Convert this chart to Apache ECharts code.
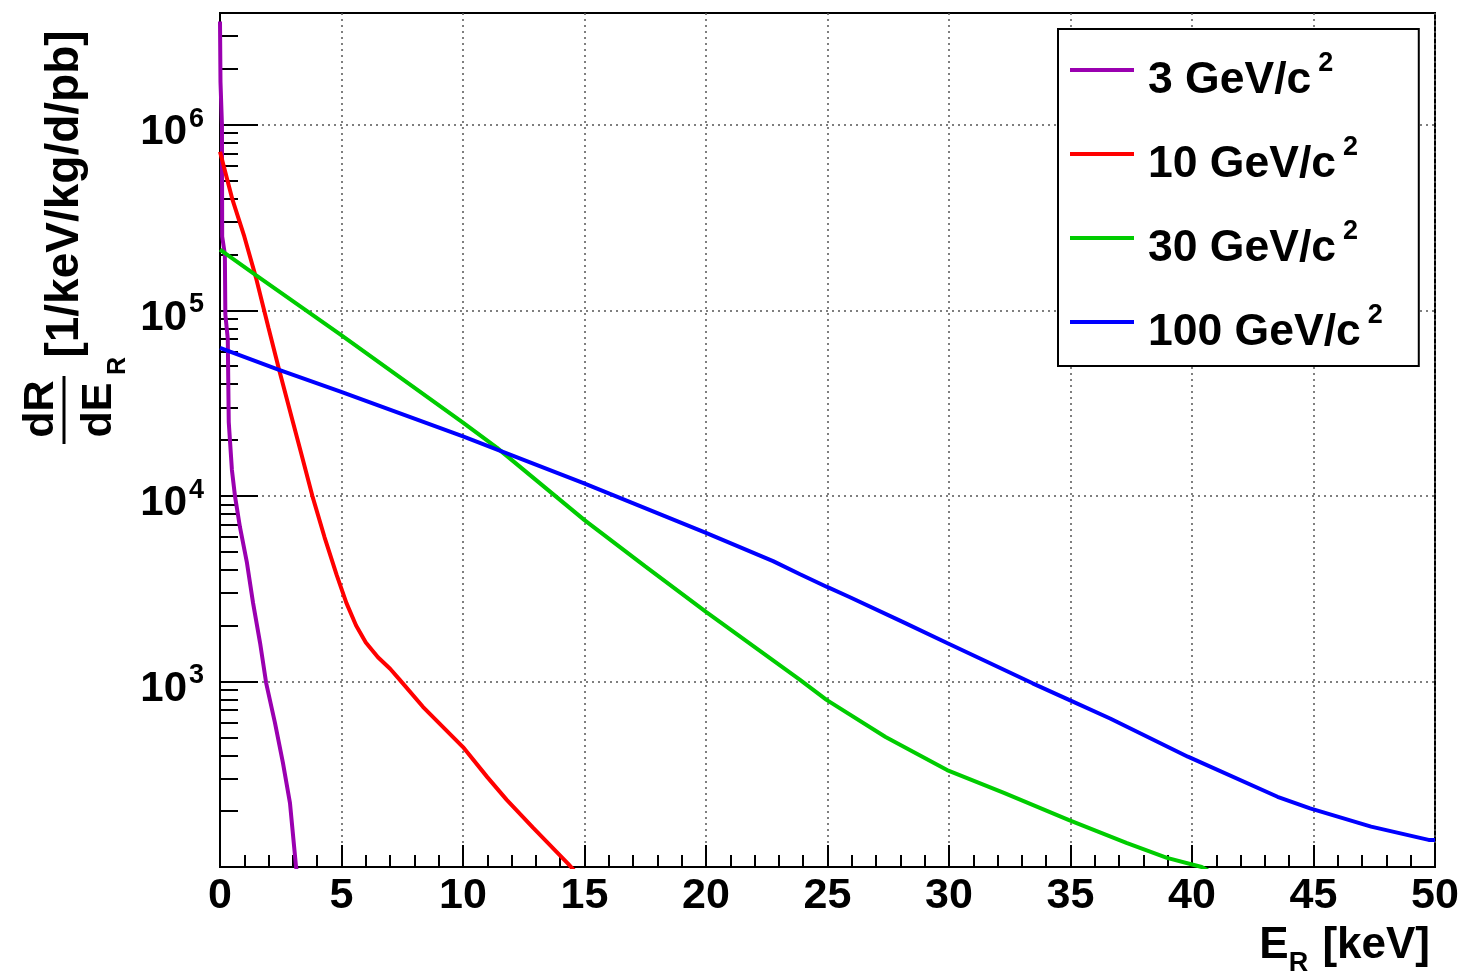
<!DOCTYPE html>
<html><head><meta charset="utf-8">
<script src="https://cdn.jsdelivr.net/npm/echarts@6/dist/echarts.min.js"></script>
<style>html,body{margin:0;padding:0;background:#fff}#c{width:1462px;height:976px}</style>
</head><body><div id="c"></div>
<script>
// ---- data ----
const seriesNames = ['3 GeV/c', '10 GeV/c', '30 GeV/c', '100 GeV/c'];
const seriesColors = ['#9a00b0', '#ff0000', '#00cc00', '#0000ff'];

const energy3 = [0, 0.02, 0.08, 0.09, 0.2, 0.22, 0.32, 0.36, 0.42, 0.49, 0.62, 0.82, 1.11, 1.36, 1.65, 1.9, 2.26, 2.59, 2.88, 3.13, 3.2];
const rate3   = [3.6e6, 1.7e6, 1.0e6, 2.5e5, 2.0e5, 9.5e4, 7.0e4, 2.5e4, 1.9e4, 1.38e4, 9.9e3, 6.8e3, 4.35e3, 2.65e3, 1.61e3, 980, 600, 364, 221, 100, 90];

const energy10 = [0, 0.5, 1.0, 1.48, 2.0, 2.43, 3.0, 3.3, 3.8, 4.3, 4.8, 5.2, 5.6, 6.0, 6.5, 7.0, 7.4, 8.35, 10.0, 11.0, 11.8, 12.9, 14.3, 14.6];
const rate10   = [7.15e5, 4.0e5, 2.5e5, 1.5e5, 8.0e4, 4.8e4, 2.5e4, 1.78e4, 1.0e4, 6.0e3, 3.75e3, 2.65e3, 2.0e3, 1.62e3, 1.35e3, 1.17e3, 1.02e3, 730, 443, 305, 230, 162, 105, 95];

const energy30 = [0, 1.46, 4.96, 10.0, 11.39, 15.0, 17.5, 20.0, 23.87, 24.96, 27.39, 29.92, 32.26, 34.94, 37.3, 38.97, 40.4, 40.7];
const rate30   = [2.12e5, 1.55e5, 7.4e4, 2.48e4, 1.82e4, 7.4e3, 4.17e3, 2.37e3, 1.02e3, 795, 502, 333, 251, 179, 135, 112, 100, 95];

const energy100 = [0, 2.43, 4.96, 10, 14.96, 20, 22.76, 23.87, 24.96, 25.88, 28.07, 29.92, 31.43, 33.44, 34.94, 36.63, 39.83, 43.52, 44.86, 47.37, 49.74, 50];
const rate100   = [6.28e4, 4.78e4, 3.65e4, 2.09e4, 1.17e4, 6.32e3, 4.45e3, 3.78e3, 3.24e3, 2.86e3, 2.10e3, 1.61e3, 1.30e3, 977, 795, 631, 393, 239, 207, 165, 140, 140];

const xTickLabels = [0, 5, 10, 15, 20, 25, 30, 35, 40, 45, 50];
const yMajorTicks = [100, 1e3, 1e4, 1e5, 1e6];
const yLabelValues = [1e3, 1e4, 1e5, 1e6];

// ---- build ----
const FONT = '"Liberation Sans", Arial, Helvetica, sans-serif';
const energies = [energy3, energy10, energy30, energy100];
const rates = [rate3, rate10, rate30, rate100];

const yMinorTicks = [];
for (let n = 2; n <= 6; n++) {
  for (let k = 2; k <= 9; k++) {
    const v = k * Math.pow(10, n);
    if (v < 4e6) yMinorTicks.push(v);
  }
}

const dotted = { type: [2, 4], color: '#555', width: 1.5 };

const chart = echarts.init(document.getElementById('c'));
chart.setOption({
  animation: false,
  backgroundColor: '#fff',
  grid: { left: 220, right: 27, top: 13, bottom: 109, outerBoundsMode: 'none', containLabel: false, show: true, borderColor: '#000', borderWidth: 2, backgroundColor: 'transparent' },
  xAxis: {
    type: 'value', min: 0, max: 50, interval: 5,
    name: '{e|E}{r|R}{e| [keV]}',
    nameLocation: 'end', nameGap: -5,
    nameTextStyle: {
      align: 'right', verticalAlign: 'top', padding: [57, 0, 0, 0],
      rich: {
        e: { fontSize: 44, lineHeight: 60, verticalAlign: 'top', fontWeight: 'bold', fontFamily: FONT, color: '#000' },
        r: { fontSize: 27, verticalAlign: 'bottom', fontWeight: 'bold', fontFamily: FONT, color: '#000', padding: [0, 2, 7, 0] }
      }
    },
    axisLine: { show: true, lineStyle: { color: '#000', width: 2 } },
    axisTick: { show: true, inside: true, length: 22, lineStyle: { color: '#000', width: 2 } },
    minorTick: { show: true, splitNumber: 5, length: 12, lineStyle: { color: '#000', width: 2 } },
    axisLabel: {
      fontSize: 43, fontWeight: 'bold', fontFamily: FONT, color: '#000', margin: 8,
      formatter: v => xTickLabels.includes(v) ? String(v) : ''
    },
    splitLine: { show: true, lineStyle: dotted }
  },
  yAxis: [{
    type: 'log', logBase: 10, min: 100, max: 4e6,
    axisLine: { show: true, lineStyle: { color: '#000', width: 2 } },
    axisTick: { show: true, inside: true, length: 38, customValues: yMajorTicks, lineStyle: { color: '#000', width: 2 } },
    axisLabel: {
      customValues: yLabelValues, margin: 16,
      formatter: v => '{b|10}{s|' + Math.round(Math.log10(v)) + '}',
      rich: {
        b: { fontSize: 42, fontWeight: 'bold', fontFamily: FONT, color: '#000', padding: [16, 0, 0, 0] },
        s: { fontSize: 27, fontWeight: 'bold', fontFamily: FONT, color: '#000', verticalAlign: 'top', padding: [10, 0, 0, 2] }
      }
    },
    splitLine: { show: true, lineStyle: dotted }
  }, {
    type: 'log', logBase: 10, min: 100, max: 4e6, position: 'left',
    axisLine: { show: false },
    axisLabel: { show: false },
    splitLine: { show: false },
    axisTick: { show: true, inside: true, length: 18, customValues: yMinorTicks, lineStyle: { color: '#000', width: 2 } }
  }],
  legend: {
    orient: 'vertical', left: 1058, top: 29,
    padding: [21, 36, 2, 12], itemGap: 22, itemWidth: 64, itemHeight: 26,
    icon: 'path://M0,0h64v4h-64zM0,25.95h0.05v0.05h-0.05z',
    backgroundColor: '#fff', borderColor: '#000', borderWidth: 2, borderRadius: 0,
    data: seriesNames,
    formatter: name => '{a|' + name + '}{s|2}',
    textStyle: {
      lineHeight: 62,
      rich: {
        a: { fontSize: 44.5, lineHeight: 62, fontWeight: 'bold', fontFamily: FONT, color: '#000', padding: [0, 0, 0, 9] },
        s: { fontSize: 27, lineHeight: 62, fontWeight: 'bold', fontFamily: FONT, color: '#000', verticalAlign: 'top', padding: [0, 0, 0, 7] }
      }
    }
  },
  graphic: [
    { type: 'text', x: 65, y: 194, rotation: Math.PI / 2, style: { text: '[1/keV/kg/d/pb]', font: 'bold 46px ' + FONT, fill: '#000', align: 'center', verticalAlign: 'middle' } },
    { type: 'text', x: 41, y: 409, rotation: Math.PI / 2, style: { text: 'dR', font: 'bold 43px ' + FONT, fill: '#000', align: 'center', verticalAlign: 'middle' } },
    { type: 'line', shape: { x1: 64, y1: 376, x2: 64, y2: 444 }, style: { stroke: '#000', lineWidth: 3 } },
    { type: 'text', x: 99, y: 410, rotation: Math.PI / 2, style: { text: 'dE', font: 'bold 43px ' + FONT, fill: '#000', align: 'center', verticalAlign: 'middle' } },
    { type: 'text', x: 118, y: 366, rotation: Math.PI / 2, style: { text: 'R', font: 'bold 25px ' + FONT, fill: '#000', align: 'center', verticalAlign: 'middle' } }
  ],
  series: seriesNames.map((name, i) => ({
    name: name, type: 'line', yAxisIndex: 0,
    showSymbol: false, symbol: 'none', clip: true, smooth: false,
    color: seriesColors[i],
    lineStyle: { color: seriesColors[i], width: 4 },
    data: energies[i].map((e, j) => [e, rates[i][j]])
  }))
});
</script>
</body></html>
